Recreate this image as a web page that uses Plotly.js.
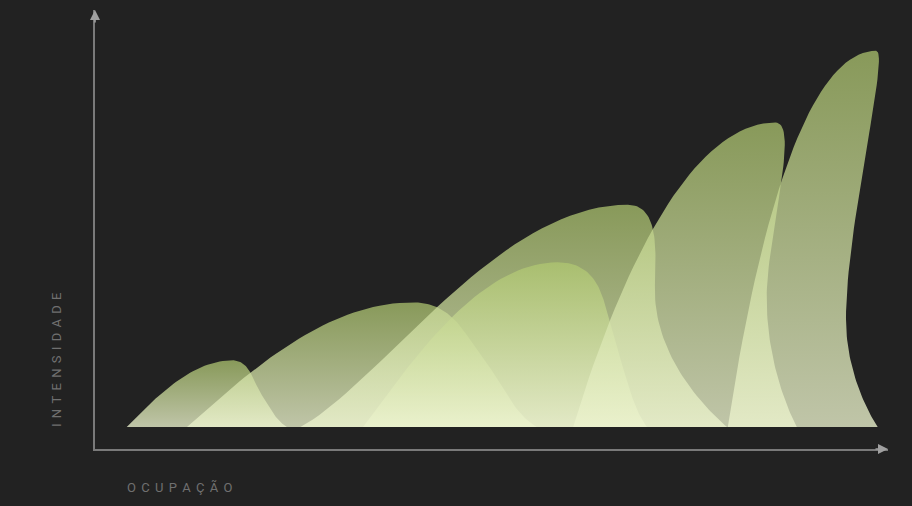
<!DOCTYPE html>
<html><head><meta charset="utf-8">
<script src="https://cdn.plot.ly/plotly-3.0.1.min.js"></script>
<style>html,body{margin:0;padding:0;background:#222222;} #chart{width:912px;height:506px;}</style>
</head><body><div id="chart"></div>
<script>
// Shark-fin series: start, peak position, peak intensity, end (occupation units 0-100, intensity 0-100)
const finNames     = ['F1', 'F2', 'F3', 'F4', 'F5', 'F6'];
const finStart     = [4.0, 11.6, 25.9, 33.8, 60.3, 79.8];
const finPeakX     = [17.3, 40.1, 67.2, 58.3, 85.8, 98.5];
const finHeight    = [16.0, 29.9, 53.3, 39.5, 73.0, 90.2];
const finEnd       = [24.2, 55.7, 79.7, 69.6, 88.5, 98.7];
// outline shape readings: crest shoulder, waist of the falling edge, lean of the falling edge, rise steepness
const finShoulderX = [19.5, 44.5, 71.5, 63.5, 89.0, 100.3];
const finWaistX    = [20.8, 47.5, 70.6, 64.8, 84.7, 94.7];
const finWaistY    = [8.4, 20.5, 32.8, 26.0, 31.0, 26.0];
const finLean      = [0.32, 0.41, 0.0, 0.16, 0.0, 0.0];
const finRise      = [1.6, 1.6, 0.8, 1.6, 2.2, 2.6];

const axisLabelX = 'OCUPAÇÃO';
const axisLabelY = 'INTENSIDADE';

function spaced(s){ return Array.from(s).join('\u2009\u2009'); }

function bez(p0,p1,p2,p3,n,out,skipFirst){
  for(let i=skipFirst?1:0;i<=n;i++){
    const t=i/n,u=1-t;
    const a=u*u*u,b=3*u*u*t,c=3*u*t*t,d=t*t*t;
    out.x.push(a*p0[0]+b*p1[0]+c*p2[0]+d*p3[0]);
    out.y.push(a*p0[1]+b*p1[1]+c*p2[1]+d*p3[1]);
  }
}

function finOutline(i){
  const s=finStart[i], p=finPeakX[i], h=finHeight[i], e=finEnd[i];
  const sx=finShoulderX[i], wx=finWaistX[i], wy=finWaistY[i], m=finRise[i], L=finLean[i];
  const out={x:[],y:[]};
  // rising edge
  bez([s,0],[s+0.25*(p-s),0.25*m*h],[s+0.6*(p-s),h],[p,h],40,out,false);
  // crest and upper falling edge
  const up=0.35*(h-wy), dn=0.45*wy;
  bez([p,h],[sx,h],[wx-L*up, wy+up],[wx,wy],40,out,true);
  // lower falling edge
  bez([wx,wy],[wx+L*dn, wy-dn],[wx+0.6*(e-wx),0.18*wy],[e,0],40,out,true);
  out.x.push(s); out.y.push(0);
  return out;
}

const topCol = 'rgba(176,200,112,0.72)';
const botCol = 'rgba(236,243,206,0.78)';

const traces = finNames.map((name,i)=>{
  const o=finOutline(i);
  return {
    type:'scatter', mode:'lines', name:name,
    x:o.x, y:o.y, fill:'toself',
    line:{width:0,color:'rgba(0,0,0,0)'},
    fillgradient:{type:'vertical', start:0, stop:finHeight[i], colorscale:[[0,botCol],[1,topCol]]},
    hoverinfo:'skip'
  };
});

const layout = {
  width:912, height:506,
  paper_bgcolor:'#222222', plot_bgcolor:'#222222',
  margin:{l:95, r:24, t:10, b:57},
  showlegend:false,
  xaxis:{range:[0,100], showgrid:false, zeroline:false, showticklabels:false, ticks:'',
         showline:true, linecolor:'#7a7a7a', linewidth:1.6, fixedrange:true},
  yaxis:{range:[-5.27,100], showgrid:false, zeroline:false, showticklabels:false, ticks:'',
         showline:true, linecolor:'#7a7a7a', linewidth:1.6, fixedrange:true},
  annotations:[
    {x:1, y:0, xref:'paper', yref:'paper', ax:-14, ay:0, text:'', showarrow:true,
     arrowhead:2, arrowsize:1.25, arrowwidth:1.6, arrowcolor:'#a0a0a0'},
    {x:0, y:1, xref:'paper', yref:'paper', ax:0, ay:14, text:'', showarrow:true,
     arrowhead:2, arrowsize:1.25, arrowwidth:1.6, arrowcolor:'#a0a0a0'},
    {x:(125-95)/793, y:(449-487)/439, xref:'paper', yref:'paper', xanchor:'left', yanchor:'middle',
     text:spaced(axisLabelX), showarrow:false, font:{family:'Roboto, sans-serif', size:13, color:'#707070'}},
    {x:(56-95)/793, y:(449-360)/439, xref:'paper', yref:'paper', xanchor:'center', yanchor:'middle',
     textangle:-90, text:spaced(axisLabelY), showarrow:false, font:{family:'Roboto, sans-serif', size:13, color:'#707070'}}
  ]
};

Plotly.newPlot('chart', traces, layout, {displayModeBar:false, staticPlot:true});
</script>
</body></html>
